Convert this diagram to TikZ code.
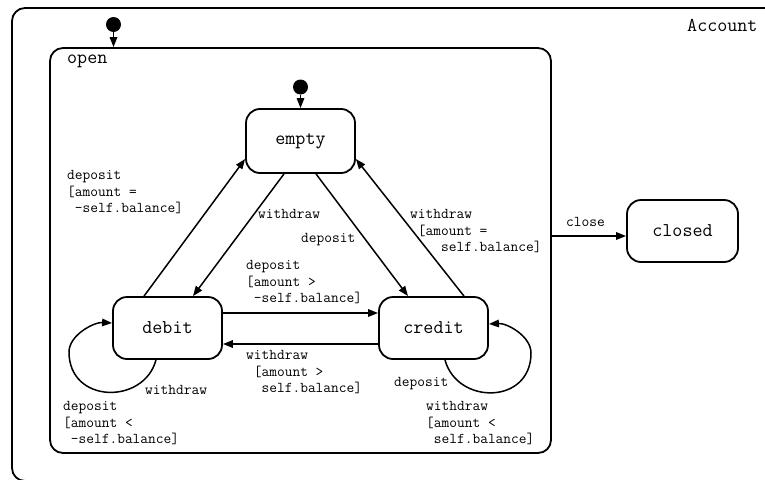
\documentclass[tikz,border=0pt]{standalone}
\usepackage{fontspec}
\usetikzlibrary{arrows.meta}
\begin{document}
\begin{tikzpicture}[x=1pt,y=-1pt,
  state/.style={draw, line width=1.8pt, rounded corners=14pt, minimum width=109pt,
    minimum height=62pt, inner sep=0pt, font=\ttfamily\fontsize{19.5}{22}\selectfont},
  region/.style={draw, line width=1.8pt, rounded corners=13pt, inner sep=0pt},
  arr/.style={line width=1.5pt, -{Triangle[length=10pt,width=7.5pt]}},
  lbl/.style={anchor=base west, align=left, inner sep=0pt,
    font=\ttfamily\fontsize{15}{16.5}\selectfont},
  title/.style={anchor=base west, inner sep=0pt, font=\ttfamily\fontsize{19.5}{22}\selectfont},
  initial/.style={circle, fill=black, minimum size=15pt, inner sep=0pt},
]
\useasboundingbox (0,0) rectangle (765,479);

% composite states
\node[region, minimum width=768pt, minimum height=473pt] (account) at (396,244.5) {};
\node[title] (accountname) at (687,31) {Account};
\node[region, minimum width=501pt, minimum height=405pt] (open) at (300.5,250.5) {};
\node[title] (openname) at (67,63) {open};

% simple states
\node[state, minimum height=64pt] (empty) at (300.5,141) {empty};
\node[state] (debit) at (167.5,328) {debit};
\node[state] (credit) at (433.5,328) {credit};
\node[state, minimum width=111pt] (closed) at (682.5,231) {closed};

% initial pseudostates
\node[initial] (init1) at (113.5,24.5) {};
\node[initial] (init2) at (300.5,87) {};
\draw[arr] (init1) -- (init1 |- open.north);
\draw[arr] (init2) -- (init2 |- empty.north);

% transitions between empty, debit and credit
\draw[arr] ([xshift=-23.5pt]debit.north) -- ([yshift=-18pt]empty.west);
\draw[arr] ([xshift=-16.5pt]empty.south) -- ([xshift=25.5pt]debit.north);
\draw[arr] ([xshift=15.5pt]empty.south) -- ([xshift=-25.5pt]credit.north);
\draw[arr] ([xshift=30.5pt]credit.north) -- ([yshift=-18pt]empty.east);
\draw[arr] ([yshift=15pt]debit.east) -- ([yshift=15pt]credit.west);
\draw[arr] ([yshift=-16pt]credit.west) -- ([yshift=-16pt]debit.east);

% self loops
\coordinate (dloop) at (69,352);
\draw[arr] ([xshift=-11.5pt]debit.south) .. controls +(-12,45) and +(0,52) .. (dloop)
  .. controls +(0,-17) and +(-18,-1) .. ([yshift=5pt]debit.west);
\coordinate (cloop) at (531,353);
\draw[arr] ([xshift=11.5pt]credit.south) .. controls +(12,45) and +(0,52) .. (cloop)
  .. controls +(0,-17) and +(18,-1) .. ([yshift=4pt]credit.east);

% leaving the open region
\coordinate (closein) at ([yshift=-5pt]closed.west);
\draw[arr] (closein -| open.east) -- (closein);

% transition labels (multi-line ones are placed by their last baseline)
\node[lbl] (l1) at (67,212.5) {deposit\\{[}amount =\\~-self.balance]};
\node[lbl] (l2) at (258,218.5) {withdraw};
\node[lbl] (l3) at (301,242.5) {deposit};
\node[lbl] (l4) at (410,251.5) {withdraw\\~[amount =\\~~~~self.balance]};
\node[lbl] (l5) at (246,302.5) {deposit\\{[}amount >\\~-self.balance]};
\node[lbl] (l6) at (246,392.5) {withdraw\\~[amount >\\~~self.balance]};
\node[lbl] (l7) at (145,394.5) {withdraw};
\node[lbl] (l8) at (63,443.5) {deposit\\{[}amount <\\~-self.balance]};
\node[lbl] (l9) at (394,386.5) {deposit};
\node[lbl] (l10) at (426,443.5) {withdraw\\{[}amount <\\~self.balance]};
\node[lbl] (l11) at (566,226.5) {close};
\end{tikzpicture}
\end{document}
